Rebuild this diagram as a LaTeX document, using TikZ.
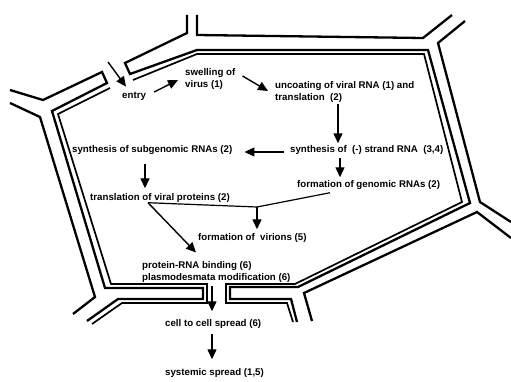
\documentclass[tikz,border=0pt]{standalone}
\usepackage{fontspec}
\setmainfont{Liberation Sans}
\usetikzlibrary{arrows.meta,calc}
\begin{document}
\begin{tikzpicture}[x=1pt,y=-1pt,
  wall/.style={line width=2.3pt, line join=miter},
  memb/.style={line width=1.7pt, line join=miter},
  lbl/.style={inner sep=0pt, anchor=west, font=\bfseries\fontsize{9.7}{11.5}\selectfont, align=left},
  arr/.style={line width=1.4pt, -{Triangle[length=10pt,width=9pt]}},
  lnk/.style={line width=1.2pt}]
\useasboundingbox (0,0) rectangle (511,382);
% ---------- cell walls ----------
% central cell wall line (with upper-left and lower cell parts)
\draw[wall] (10,90) -- (43,100) -- (102,72) -- (107,83) -- (52,111) -- (105,288) -- (203,288) -- (203,299) -- (118,299) -- (87,321);
\draw[wall] (187,15) -- (187,33) -- (125,63) -- (130,74) -- (197,50) -- (428,50) -- (470,203) -- (298,287) -- (230,287) -- (230,299) -- (291,299) -- (297,322);
% membranes
\draw[memb] (110,88) -- (58,114) -- (111,284) -- (207,284) -- (207,303) -- (122,303) -- (92,324);
\draw[memb] (133,80) -- (197,54) -- (424,54) -- (462,202) -- (295,284) -- (226,284) -- (226,303) -- (287,303) -- (293,322);
% neighbouring cells
\draw[wall] (197,15) -- (197,35) -- (423,38) -- (452,15);
\draw[wall] (465,21) -- (438,43) -- (480,202) -- (511,222);
\draw[wall] (511,238) -- (477,212) -- (304,293) -- (312,321);
\draw[wall] (10,103) -- (40,117) -- (95,297) -- (73,314);
% ---------- labels ----------
\node[lbl] (entry) at (122,96) {entry};
\node[lbl] (swell) at (185,79) {swelling of\\virus (1)};
\node[lbl] (unc) at (275,92) {uncoating of viral RNA (1) and\\translation\ \ (2)};
\node[lbl] (neg) at (290,150) {synthesis of\ \ (-) strand RNA\ \ (3,4)};
\node[lbl] (sub) at (72,150) {synthesis of subgenomic RNAs (2)};
\node[lbl] (trans) at (90,198) {translation of viral proteins (2)};
\node[lbl] (gen) at (297,185) {formation of genomic RNAs (2)};
\node[lbl] (vir) at (198,238) {formation of\ \ virions (5)};
\node[lbl] (prot) at (142,272) {protein-RNA binding (6)\\plasmodesmata modification (6)};
\node[lbl] (cell) at (165,324) {cell to cell spread (6)};
\node[lbl] (sys) at (165,373) {systemic spread (1,5)};
% ---------- connectors ----------
\coordinate (in) at (108,62);
\coordinate (jn) at (257,207);
\draw[arr] (in) -- ($(entry.north west)+(4,-5)$);
\draw[arr] ($(entry.east)+(8,-4)$) -- ($(swell.west)+(-7,1)$);
\draw[arr] ($(swell.east)+(7,-3)$) -- ($(unc.west)+(-7,-1)$);
\draw[arr] ($(unc.south west)+(63,2)$) -- ($(neg.north west)+(48,-2)$);
\draw[arr] ($(neg.west)+(-6,2)$) -- ($(sub.east)+(12,2)$);
\draw[arr] ($(sub.south west)+(73,9)$) -- ($(trans.north west)+(55,-5)$);
\draw[arr] ($(neg.south west)+(50,3)$) -- ($(gen.north west)+(43,-3)$);
\draw[lnk] ($(trans.south west)+(58,0)$) -- (jn);
\draw[lnk] ($(gen.south west)+(33,3)$) -- (jn);
\draw[arr] (jn) -- ($(vir.north west)+(59,-4)$);
\draw[arr] ($(trans.south west)+(58,0)$) -- ($(prot.north west)+(54,-9)$);
\draw[arr] ($(prot.south west)+(70,4)$) -- ($(cell.north west)+(47,-8)$);
\draw[arr] ($(cell.south west)+(47,5)$) -- ($(sys.north west)+(47,-9)$);
\end{tikzpicture}
\end{document}
